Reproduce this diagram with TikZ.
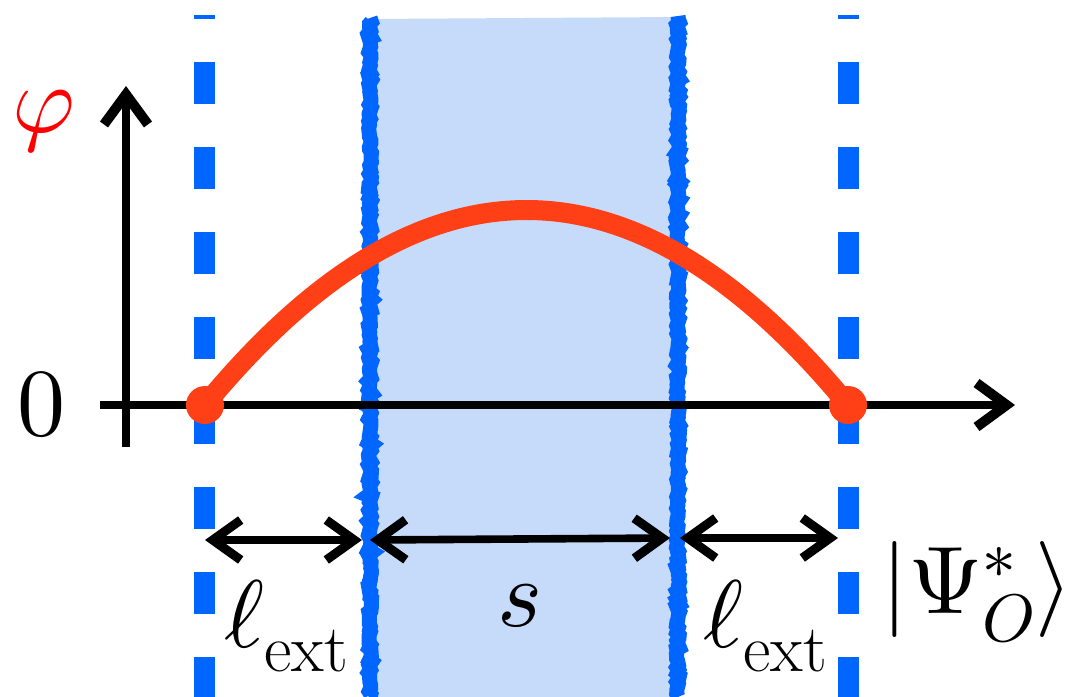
\documentclass[tikz,border=0pt]{standalone}
\usepackage{amsmath,fontspec,unicode-math}
\usetikzlibrary{positioning,arrows.meta,decorations.pathmorphing}
\definecolor{wallblue}{HTML}{0066FF}
\definecolor{bandblue}{HTML}{C6DBFA}
\definecolor{curvered}{HTML}{FF4017}

\begin{document}
\begin{tikzpicture}[
  x=0.5pt,y=-0.5pt,
  every node/.style={font=\fontsize{48}{56}\selectfont,inner sep=0pt},
  wall/.style={wallblue,line width=10.5pt,dash pattern=on 21pt off 21.5pt,dash phase=19pt},
  edgeline/.style={wallblue,line width=7.5pt,decorate,
    decoration={random steps,segment length=1.5pt,amplitude=0.8pt}},
  axis/.style={line width=4pt,-{Straight Barb[length=15pt,width=22pt,line width=5pt]}},
  span/.style={line width=3.8pt,{Straight Barb[length=14pt,width=20pt,line width=4.5pt]}-{Straight Barb[length=14pt,width=20pt,line width=4.5pt]}},
  curve/.style={curvered,line width=10pt}
 ]
  \useasboundingbox (0,0) rectangle (1089,697);
  % region between the walls
  \fill[bandblue] (370,19) -- (678,17) -- (678,697) -- (370,697) -- cycle;
  \draw[edgeline] (370,18) -- (370,697);
  \draw[edgeline] (678,16) -- (678,697);
  % dashed walls
  \draw[wall] (204,15) -- (204,697);
  \draw[wall] (848,15) -- (848,697);
  % axes
  \coordinate (o) at (126,405);
  \draw[axis] (100,405) -- (1015,405);
  \draw[axis] (126,447) -- (126,86);
  \node[red] (phi) at (44,122) {$\varphi$};
  \node (zero) at (42,405) {$0$};
  % profile
  \coordinate (p0) at (205,405);
  \coordinate (p1) at (848,405);
  \draw[curve] (p0) .. controls (419.3,145) and (633.7,145) .. (p1);
  \fill[curvered] (p0) circle[radius=9.5pt];
  \fill[curvered] (p1) circle[radius=9.5pt];
  % lengths
  \coordinate (a0) at (205,540);
  \coordinate (a1) at (362,540);
  \coordinate (a2) at (370,540);
  \coordinate (a3) at (670,538);
  \coordinate (a4) at (680,538);
  \coordinate (a5) at (838,538);
  \draw[span] (a0) -- (a1);
  \draw[span] (a2) -- (a3);
  \draw[span] (a4) -- (a5);
  \node (lext1) at (287,626) {$\ell_{\text{ext}}$};
  \node (slab) at (520,606) {$s$};
  \node (lext2) at (766,626) {$\ell_{\text{ext}}$};
  \node (psi) at (977,592) {$|\Psi_O^*\rangle$};
\end{tikzpicture}
\end{document}
